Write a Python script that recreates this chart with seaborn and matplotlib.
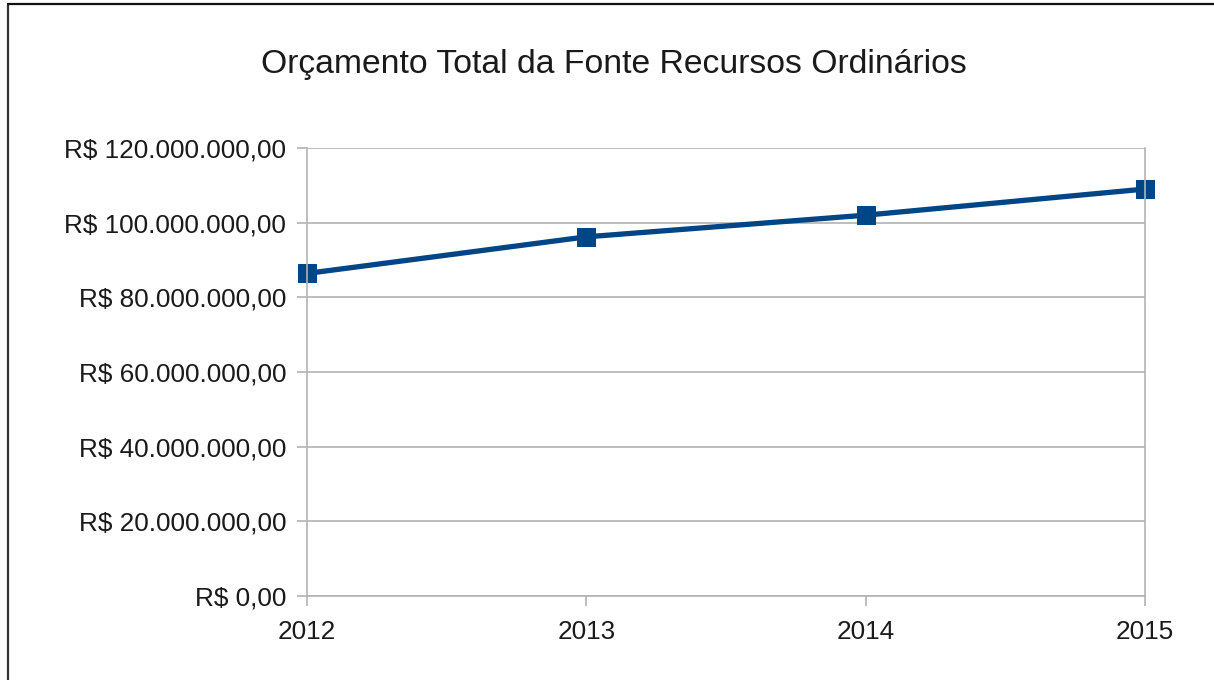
import matplotlib
matplotlib.use('Agg')

import matplotlib.pyplot as plt
import seaborn as sns
import pandas as pd
from matplotlib.ticker import FuncFormatter, MultipleLocator
from matplotlib.lines import Line2D

# --- Data ---
years = [2012, 2013, 2014, 2015]
orcamento = [86_400_000, 96_200_000, 102_000_000, 109_000_000]
title = "Orçamento Total da Fonte Recursos Ordinários"

df = pd.DataFrame({"Ano": years, "Valor": orcamento})


def brl(v, pos=None):
    # Brazilian currency style: R$ 120.000.000,00
    s = f"{v:,.2f}"
    s = s.replace(",", "X").replace(".", ",").replace("X", ".")
    return f"R$ {s}"


sns.set_theme(style="white")
plt.rcParams['font.family'] = ['Liberation Sans', 'DejaVu Sans']

fig = plt.figure(figsize=(12.14, 6.8), dpi=100)
ax = fig.add_axes([0.2529, 0.1235, 0.6903, 0.6589])

sns.lineplot(data=df, x="Ano", y="Valor", ax=ax, color="#004586",
             linewidth=3.8, marker="s", markersize=13.5,
             markeredgecolor="#004586", markerfacecolor="#004586")
for ln in ax.lines:
    ln.set_clip_on(False)

ax.set_xlim(years[0], years[-1])
ax.set_ylim(0, 120_000_000)
ax.yaxis.set_major_locator(MultipleLocator(20_000_000))
ax.yaxis.set_major_formatter(FuncFormatter(brl))
ax.set_xticks(years)
ax.set_xticklabels([str(y) for y in years])
ax.set_xlabel("")
ax.set_ylabel("")

ax.grid(axis="y", color="#b3b3b3", linewidth=1.2)
ax.set_axisbelow(True)
for side in ["left", "bottom", "right"]:
    ax.spines[side].set_color("#b3b3b3")
    ax.spines[side].set_linewidth(1.2)
ax.spines["top"].set_visible(False)

ax.tick_params(axis="both", which="major", direction="out", length=7,
               width=1.2, color="#b3b3b3", labelsize=18.8,
               labelcolor="#1a1a1a")
ax.tick_params(axis="x", bottom=True, pad=10)
ax.tick_params(axis="y", left=True, pad=8)

fig.text(0.506, 0.8926, title, ha="center", va="baseline",
         fontsize=24.3, color="#1a1a1a")

# screenshot frame (left and top edges)
fig.add_artist(Line2D([0.0062, 0.0062], [0, 0.994], transform=fig.transFigure,
                      color="#333333", linewidth=1.6))
fig.add_artist(Line2D([0.0062, 1.0], [0.994, 0.994], transform=fig.transFigure,
                      color="#111111", linewidth=1.6))

fig.savefig("out.png", dpi=100)
